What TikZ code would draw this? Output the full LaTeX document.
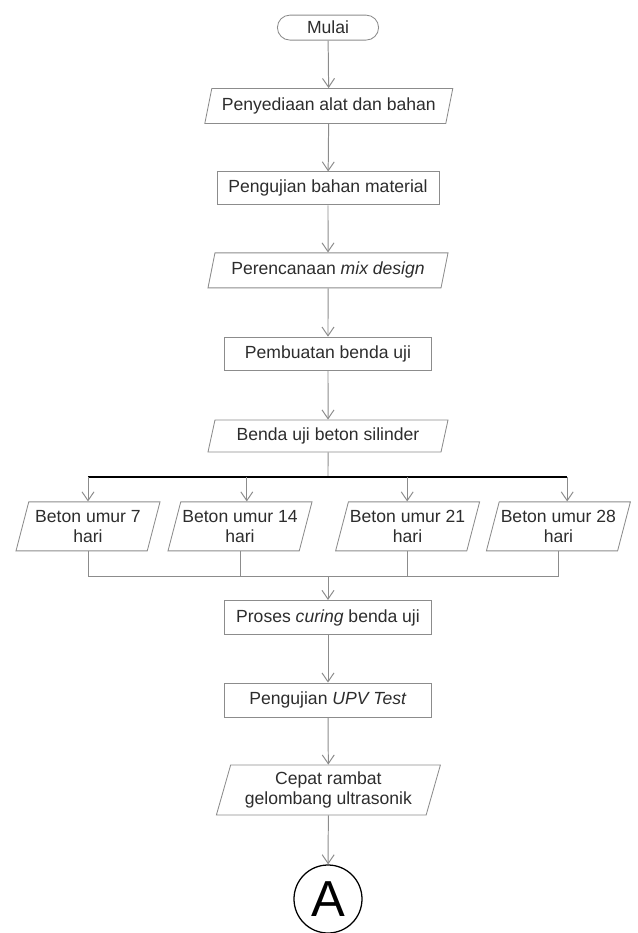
\documentclass[tikz,border=0pt]{standalone}
\usepackage{fontspec}
\setmainfont{Liberation Sans}
\usetikzlibrary{shapes.geometric, shapes.misc, arrows.meta}

\definecolor{linegray}{RGB}{140,140,140}
\definecolor{textgray}{RGB}{45,45,45}

\tikzset{
    proc/.style={rectangle, draw=linegray, line width=0.6pt, fill=white, text=textgray,
        minimum width=5.175cm, minimum height=0.84cm, inner sep=1pt},
    io/.style={trapezium, trapezium left angle=70, trapezium right angle=110,
        trapezium stretches body, draw=linegray, line width=0.6pt, fill=white, text=textgray,
        minimum height=0.875cm, inner sep=1pt, align=center},
    term/.style={rounded rectangle, draw=linegray, line width=0.6pt, fill=white, text=textgray,
        minimum width=2.6cm, minimum height=0.625cm, inner sep=1pt},
    flow/.style={draw=linegray, line width=0.7pt, -{Straight Barb[length=2.2mm, width=3mm]}},
    link/.style={draw=linegray, line width=0.7pt},
}

\begin{document}
\begin{tikzpicture}[font=\fontsize{12.5}{14.2}\selectfont]
                    \useasboundingbox (-8.2, 0) rectangle (7.725, -23.325);

                    \node (MULAI) [term] at (0, -0.69) {Mulai};
                    \node (ALAT) [io, minimum width=6.2cm] at (0.02, -2.65) {Penyediaan alat dan bahan};
                    \node (UJIBHN) [proc, minimum width=5.55cm, minimum height=0.825cm] at (0, -4.71) {Pengujian bahan material};
                    \node (MIX) [io, minimum width=6.0cm] at (0, -6.76) {Perencanaan \textit{mix design}};
                    \node (BUAT) [proc, minimum height=0.825cm] at (0, -8.84) {Pembuatan benda uji};
                    \node (SILINDER) [io, minimum width=6.0cm, minimum height=0.8cm] at (0, -10.9) {Benda uji beton silinder};

                    \node (U7) [io, minimum width=3.6cm, minimum height=1.225cm] at (-6.0, -13.16) {Beton umur 7\\hari};
                    \node (U14) [io, minimum width=3.6cm, minimum height=1.225cm] at (-2.2, -13.16) {Beton umur 14\\hari};
                    \node (U21) [io, minimum width=3.6cm, minimum height=1.225cm] at (1.99, -13.16) {Beton umur 21\\hari};
                    \node (U28) [io, minimum width=3.6cm, minimum height=1.225cm] at (5.76, -13.16) {Beton umur 28\\hari};

                    \node (CURING) [proc, minimum height=0.86cm] at (0, -15.44) {Proses \textit{curing} benda uji};
                    \node (UPV) [proc, minimum height=0.85cm] at (0, -17.5) {Pengujian \textit{UPV Test}};
                    \node (CEPAT) [io, minimum width=5.6cm, minimum height=1.25cm] at (0.01, -19.75) {Cepat rambat\\gelombang ultrasonik};
                    \node (A) [circle, draw=black, line width=0.9pt, minimum size=1.7cm, inner sep=0pt,
                        font=\fontsize{36}{36}\selectfont] at (0, -22.475) {A};

                    % bus and merge points
                    \coordinate (BUS) at (0, -11.93);
                    \coordinate (T7) at (-6.0, -11.93);
                    \coordinate (T14) at (-2.03, -11.93);
                    \coordinate (T21) at (1.98, -11.93);
                    \coordinate (T28) at (5.98, -11.93);
                    \coordinate (MRG) at (0, -14.4);

                    \draw (MULAI) edge[flow] (ALAT);
                    \draw (ALAT) edge[flow] (UJIBHN);
                    \draw (UJIBHN) edge[flow] (MIX);
                    \draw (MIX) edge[flow] (BUAT);
                    \draw (BUAT) edge[flow] (SILINDER);
                    \draw[link] (SILINDER) -- (BUS);
                    \draw[line width=1.8pt] (T7) -- (T28);
                    \draw (T7) edge[flow] (T7 |- U7.north);
                    \draw (T14) edge[flow] (T14 |- U14.north);
                    \draw (T21) edge[flow] (T21 |- U21.north);
                    \draw (T28) edge[flow] (T28 |- U28.north);
                    \draw[link] (U7.south) -- (U7.south |- MRG) -- (U28.south |- MRG) -- (U28.south);
                    \draw[link] (U14.south) -- (U14.south |- MRG);
                    \draw[link] (U21.south) -- (U21.south |- MRG);
                    \draw (MRG) edge[flow] (CURING);
                    \draw (CURING) edge[flow] (UPV);
                    \draw (UPV) edge[flow] (CEPAT);
                    \draw (CEPAT) edge[flow] (A);
                \end{tikzpicture}
\end{document}
